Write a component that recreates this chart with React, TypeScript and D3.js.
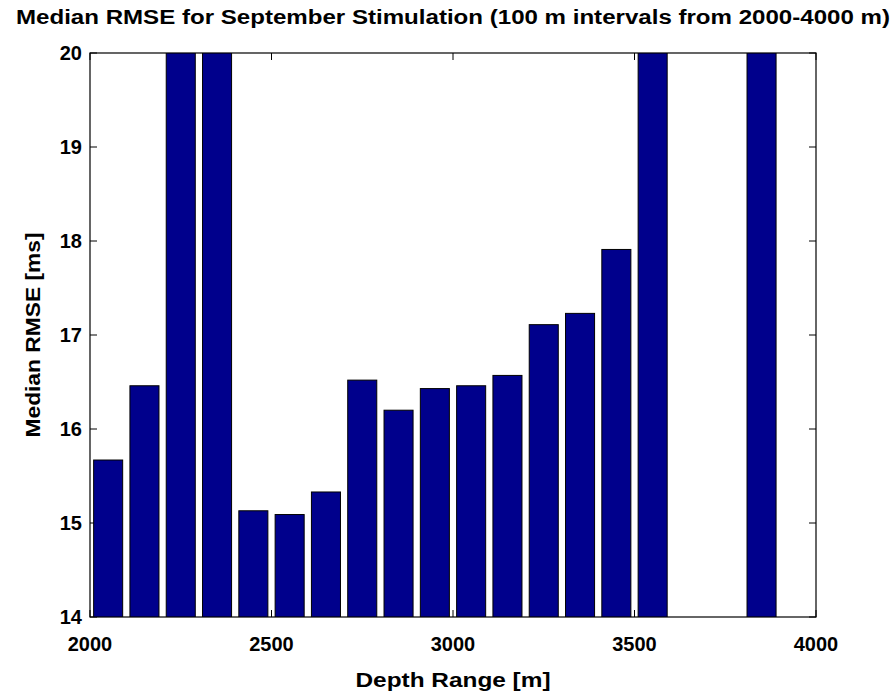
import React from "react";
import * as d3 from "d3";

// Bin centres (m) and median RMSE (ms). Values > 20 are off-scale (clipped), NaN = no data.
const depthBins = [2050, 2150, 2250, 2350, 2450, 2550, 2650, 2750, 2850, 2950, 3050, 3150, 3250, 3350, 3450, 3550, 3650, 3750, 3850, 3950];
const medianRmse = [15.67, 16.46, 22, 22, 15.13, 15.09, 15.33, 16.52, 16.2, 16.43, 16.46, 16.57, 17.11, 17.23, 17.91, 22, NaN, NaN, 22, NaN];
const xTicks = [2000, 2500, 3000, 3500, 4000];
const yTicks = [14, 15, 16, 17, 18, 19, 20];

const titleText = "Median RMSE for September Stimulation (100 m intervals from 2000-4000 m)";
const xLabel = "Depth Range [m]";
const yLabel = "Median RMSE [ms]";

export default function App() {
  const W = 892, H = 694;
  const left = 90, right = 816, top = 53, bottom = 617;
  const x = d3.scaleLinear().domain([2000, 4000]).range([left, right]);
  const y = d3.scaleLinear().domain([14, 20]).range([bottom, top]);
  const barW = x(2080) - x(2000);
  const tick = 7;
  const font = "'Liberation Sans', Arial, Helvetica, sans-serif";

  return (
    <svg width={W} height={H} style={{ position: "absolute", left: 0, top: 0, background: "#fff" }}
      fontFamily={font} fontWeight="bold">
      <defs>
        <clipPath id="plotClip">
          <rect x={left} y={top} width={right - left} height={bottom - top} />
        </clipPath>
      </defs>
      <rect x={0} y={0} width={W} height={H} fill="#fff" />
      {/* ticks (under bars) */}
      <g stroke="#000" strokeWidth={1}>
        {xTicks.map((t) => (
          <g key={"xt" + t}>
            <line x1={x(t)} x2={x(t)} y1={bottom} y2={bottom - tick} />
            <line x1={x(t)} x2={x(t)} y1={top} y2={top + tick} />
          </g>
        ))}
        {yTicks.map((t) => (
          <g key={"yt" + t}>
            <line x1={left} x2={left + tick} y1={y(t)} y2={y(t)} />
            <line x1={right} x2={right - tick} y1={y(t)} y2={y(t)} />
          </g>
        ))}
      </g>
      {/* bars */}
      <g clipPath="url(#plotClip)">
        {depthBins.map((d, i) => {
          const v = medianRmse[i];
          if (!isFinite(v)) return null;
          const yt = y(v);
          return (
            <rect key={d} x={x(d) - barW / 2} y={yt} width={barW} height={y(14) - yt + 5}
              fill="#00008c" stroke="#000" strokeWidth={1} />
          );
        })}
      </g>
      {/* frame */}
      <rect x={left} y={top} width={right - left} height={bottom - top} fill="none" stroke="#000" strokeWidth={1.2} />
      {/* tick labels */}
      <g fontSize={20} fill="#000">
        {xTicks.map((t) => (
          <text key={"xl" + t} x={x(t)} y={651} textAnchor="middle">{t}</text>
        ))}
        {yTicks.map((t) => (
          <text key={"yl" + t} x={82} y={y(t) + 7} textAnchor="end">{t}</text>
        ))}
      </g>
      {/* labels */}
      <text x={(left + right) / 2} y={24} textAnchor="middle" fontSize={20}
        textLength={874} lengthAdjust="spacingAndGlyphs">{titleText}</text>
      <text x={(left + right) / 2} y={687} textAnchor="middle" fontSize={21}
        textLength={195} lengthAdjust="spacingAndGlyphs">{xLabel}</text>
      <text transform={`translate(40, ${(top + bottom) / 2}) rotate(-90)`} textAnchor="middle" fontSize={20}
        textLength={205} lengthAdjust="spacingAndGlyphs">{yLabel}</text>
    </svg>
  );
}
